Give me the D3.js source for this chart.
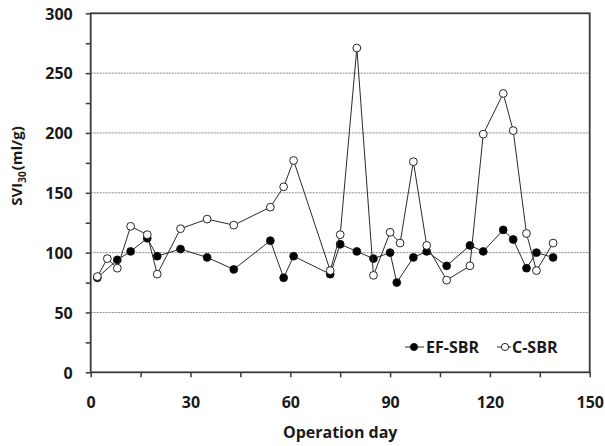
<!DOCTYPE html>
<html><head><meta charset="utf-8">
<script src="https://cdn.jsdelivr.net/npm/d3@7"></script>
<style>
body{margin:0;background:#fff;}
svg{display:block;font-family:"Open Sans",sans-serif;}
</style></head>
<body>
<svg id="c" width="605" height="446"></svg>
<script>
const efDays = [2,8,12,17,20,27,35,43,54,58,61,72,75,80,85,90,92,97,101,107,114,118,124,127,131,134,139];
const efValues = [79,94,101,112,97,103,96,86,110,79,97,82,107,101,95,100,75,96,101,89,106,101,119,111,87,100,96];
const cDays = [2,5,8,12,17,20,27,35,43,54,58,61,72,75,80,85,90,93,97,101,107,114,118,124,127,131,134,139];
const cValues = [80,95,87,122,115,82,120,128,123,138,155,177,85,115,271,81,117,108,176,106,77,89,199,233,202,116,85,108];
const xTicks = [0,15,30,45,60,75,90,105,120,135,150];
const yTicks = [0,25,50,75,100,125,150,175,200,225,250,275,300];
const gridValues = [50,100,150,200,250];
const seriesNames = ["EF-SBR","C-SBR"];

const FONT = "'Open Sans', sans-serif";
const svg = d3.select("#c");
const L = 90.7, R = 589.7, T = 13.3, B = 372.3;
const x = d3.scaleLinear().domain([0,150]).range([L,R]);
const y = d3.scaleLinear().domain([0,300]).range([B,T]);
const axisColor = "#3a3a3a";
const textColor = "#1a1a1a";

// gridlines
svg.append("g").selectAll("line").data(gridValues).join("line")
  .attr("x1",L).attr("x2",R).attr("y1",d=>y(d)).attr("y2",d=>y(d))
  .attr("stroke","#8a8a8a").attr("stroke-width",1).attr("stroke-dasharray","2,1");

// axes
const yAxis = d3.axisLeft(y).tickValues(yTicks).tickSize(5).tickPadding(13)
  .tickFormat(d => d % 50 === 0 ? d : "");
const gy = svg.append("g").attr("transform",`translate(${L},0)`).call(yAxis);
const xAxis = d3.axisBottom(x).tickValues(xTicks).tickSize(5).tickPadding(19)
  .tickFormat(d => d % 30 === 0 ? d : "");
const gx = svg.append("g").attr("transform",`translate(0,${B})`).call(xAxis);
[gx,gy].forEach(g=>{
  g.select(".domain").remove();
  g.selectAll(".tick line").attr("stroke",axisColor).attr("stroke-width",1.5);
  g.selectAll(".tick text").attr("font-size",16).attr("font-weight","bold").attr("fill",textColor)
   .attr("font-family",FONT);
});
gy.selectAll(".tick text").attr("dy","0.36em");

// frame
svg.append("rect").attr("x",L).attr("y",T).attr("width",R-L).attr("height",B-T)
  .attr("fill","none").attr("stroke",axisColor).attr("stroke-width",1.8);

const line = d3.line().x(d=>x(d[0])).y(d=>y(d[1]));
const ef = efDays.map((d,i)=>[d,efValues[i]]);
const cs = cDays.map((d,i)=>[d,cValues[i]]);

function drawSeries(data, fill){
  svg.append("path").datum(data).attr("d",line).attr("fill","none")
    .attr("stroke","#2a2a2a").attr("stroke-width",1);
  svg.append("g").selectAll("circle").data(data).join("circle")
    .attr("cx",d=>x(d[0])).attr("cy",d=>y(d[1])).attr("r",3.9)
    .attr("fill",fill).attr("stroke","#111").attr("stroke-width",0.9);
}
drawSeries(ef,"#000");
drawSeries(cs,"#fff");

// legend
const leg = svg.append("g");
const legItems = [{name:seriesNames[0],fill:"#000",x1:405,x2:424,mx:414,tx:426},
                  {name:seriesNames[1],fill:"#fff",x1:497,x2:511,mx:505,tx:512}];
legItems.forEach(it=>{
  leg.append("line").attr("x1",it.x1).attr("x2",it.x2).attr("y1",347).attr("y2",347)
    .attr("stroke","#2a2a2a").attr("stroke-width",1);
  leg.append("circle").attr("cx",it.mx).attr("cy",347).attr("r",3.6)
    .attr("fill",it.fill).attr("stroke","#111").attr("stroke-width",0.9);
  leg.append("text").attr("x",it.tx).attr("y",352.8).attr("font-size",16)
    .attr("font-family",FONT).attr("font-weight","bold").attr("fill",textColor).text(it.name);
});

// axis titles
svg.append("text").attr("x",(L+R)/2).attr("y",438).attr("text-anchor","middle")
  .attr("font-family",FONT).attr("font-size",16).attr("font-weight","bold").attr("fill",textColor).text("Operation day");
const yt = svg.append("text").attr("transform","translate(22,166) rotate(-90)")
  .attr("text-anchor","middle").attr("font-family",FONT).attr("font-size",15).attr("font-weight","bold").attr("fill",textColor);
yt.append("tspan").text("SVI");
yt.append("tspan").attr("font-size",10).attr("dy",4).text("30");
yt.append("tspan").attr("dy",-4).attr("dx",1).text("(ml/g)");
</script>
</body></html>
